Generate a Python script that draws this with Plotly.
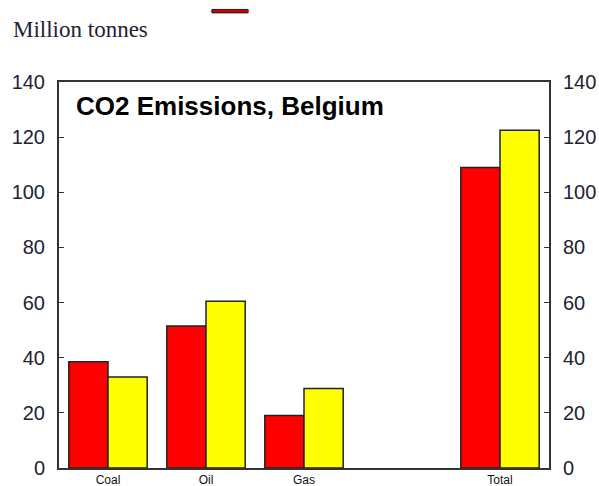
import plotly.graph_objects as go

categories = ["Coal", "Oil", "Gas", " ", "Total"]
series_a = [38.5, 51.5, 19.0, None, 109.0]
series_b = [33.0, 60.5, 28.8, None, 122.5]
y_ticks = [0, 20, 40, 60, 80, 100, 120, 140]

fig = go.Figure()
fig.add_trace(go.Bar(x=categories, y=series_a, marker=dict(color="#ff0000", line=dict(color="#222222", width=1.5)), showlegend=False))
fig.add_trace(go.Bar(x=categories, y=series_b, marker=dict(color="#ffff00", line=dict(color="#222222", width=1.5)), showlegend=False))
# helper trace so the right-hand axis is drawn
fig.add_trace(go.Scatter(x=categories, y=series_b, yaxis="y2", mode="markers", marker=dict(opacity=0),
                         hoverinfo="skip", showlegend=False))

axis_font = dict(family="Liberation Sans, Arial", size=20, color="#222233")
fig.update_layout(
    width=599, height=486,
    margin=dict(l=59, r=50, t=82, b=18),
    paper_bgcolor="white", plot_bgcolor="white",
    barmode="group", bargap=0.2, bargroupgap=0,
    xaxis=dict(type="category", range=[-0.5, 4.5], showline=True, linecolor="#333333", linewidth=2,
               mirror=True, ticks="", showgrid=False, automargin=False,
               tickfont=dict(family="Liberation Sans, Arial", size=12, color="#111111")),
    yaxis=dict(range=[0, 140], tickvals=y_ticks, ticks="inside", ticklen=5, tickcolor="#333333",
               showline=True, linecolor="#333333", linewidth=2, showgrid=False, zeroline=False,
               tickfont=axis_font, ticklabelstandoff=8, automargin=False),
    yaxis2=dict(range=[0, 140], tickvals=y_ticks, overlaying="y", side="right", ticks="inside", ticklen=5,
                tickcolor="#333333", showline=True, linecolor="#333333", linewidth=2, showgrid=False,
                zeroline=False, tickfont=axis_font, ticklabelstandoff=8, automargin=False),
    annotations=[
        dict(text="<b>CO2 Emissions, Belgium</b>", xref="paper", yref="paper", x=0.03, y=0.937,
             xanchor="left", yanchor="middle", showarrow=False,
             font=dict(family="Liberation Sans, Arial", size=26, color="#000000")),
        dict(text="Million tonnes", xref="paper", yref="paper", x=-0.098, y=1.135,
             xanchor="left", yanchor="middle", showarrow=False,
             font=dict(family="Liberation Serif, Times New Roman", size=23, color="#222233")),
    ],
    shapes=[dict(type="rect", xref="paper", yref="paper", x0=0.312, x1=0.386, y0=1.179, y1=1.188,
                 fillcolor="#cc0000", line=dict(color="#222222", width=1))],
)
fig.write_html("out.html")
